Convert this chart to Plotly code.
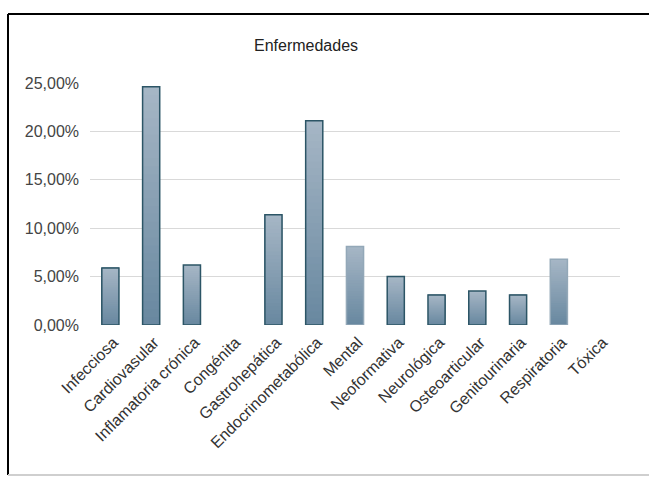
import plotly.graph_objects as go

categories = ["Infecciosa", "Cardiovasular", "Inflamatoria crónica", "Congénita",
              "Gastrohepática", "Endocrinometabólica", "Mental", "Neoformativa",
              "Neurológica", "Osteoarticular", "Genitourinaria", "Respiratoria", "Tóxica"]
values = [5.9, 24.6, 6.2, 0, 11.4, 21.1, 8.1, 5.0, 3.1, 3.5, 3.1, 6.8, 0]
tick_vals = [0, 5, 10, 15, 20, 25]
tick_text = ["0,00%", "5,00%", "10,00%", "15,00%", "20,00%", "25,00%"]
title_text = "Enfermedades"

outline_colors = []
for c, v in zip(categories, values):
    if v == 0:
        outline_colors.append("rgba(0,0,0,0)")
    elif c in ("Mental", "Respiratoria"):
        outline_colors.append("#93a8b8")
    else:
        outline_colors.append("#2c5566")

top_rgb = (167, 183, 198)
bot_rgb = (104, 136, 160)
N = 30

fig = go.Figure()
for i in range(N):
    t = (i + 0.5) / N
    r = int(bot_rgb[0] + (top_rgb[0] - bot_rgb[0]) * t)
    g = int(bot_rgb[1] + (top_rgb[1] - bot_rgb[1]) * t)
    b = int(bot_rgb[2] + (top_rgb[2] - bot_rgb[2]) * t)
    fig.add_trace(go.Bar(
        x=categories,
        y=[v * (N - i) / N for v in values],
        base=[v * i / N for v in values],
        marker=dict(color=f"rgb({r},{g},{b})", line=dict(width=0)),
        width=0.42, showlegend=False, hoverinfo="skip",
    ))
fig.add_trace(go.Bar(
    x=categories, y=values,
    marker=dict(color="rgba(0,0,0,0)", line=dict(color=outline_colors, width=1.5)),
    width=0.42, showlegend=False,
))

L, R, T, B = 90, 29, 83, 153
pw, ph = 649 - L - R, 478 - T - B

def px(x):
    return (x - L) / pw

def py(y):
    return (T + ph - y) / ph

shapes = [
    dict(type="line", xref="paper", yref="paper", x0=px(8), x1=px(660), y0=py(14), y1=py(14),
         line=dict(color="black", width=2)),
    dict(type="line", xref="paper", yref="paper", x0=px(8), x1=px(8), y0=py(14), y1=py(475),
         line=dict(color="black", width=2)),
    dict(type="line", xref="paper", yref="paper", x0=px(8), x1=px(660), y0=py(475), y1=py(475),
         line=dict(color="#cfcfcf", width=2)),
]

fig.update_layout(
    width=649, height=478,
    margin=dict(l=L, r=R, t=T, b=B),
    paper_bgcolor="white", plot_bgcolor="white",
    barmode="overlay",
    font=dict(family="Liberation Sans, Arial, sans-serif", color="#333333"),
    title=dict(text=title_text, x=306 / 649, xanchor="center", y=1 - 45 / 478, yanchor="middle",
               font=dict(size=16, color="#222222")),
    shapes=shapes,
    xaxis=dict(tickangle=-45, tickfont=dict(size=16, color="#333333"), showgrid=False,
               showline=False, ticks="", range=[-0.5, len(categories) - 0.5],
               ticklabelstandoff=4, ticklabelshift=3),
    yaxis=dict(range=[0, 25], tickvals=tick_vals, ticktext=tick_text,
               tickfont=dict(size=16, color="#444444"), showgrid=True, gridcolor="#d9d9d9",
               gridwidth=1, zeroline=False, showline=False, ticks="", ticklabelstandoff=10),
)

fig.write_html("out.html")
